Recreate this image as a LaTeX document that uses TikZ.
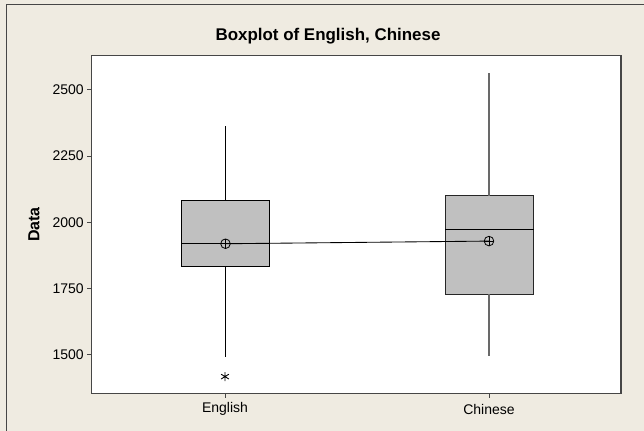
\documentclass[tikz,border=0pt]{standalone}
\usepackage{fontspec}
\setmainfont{Liberation Sans}
\definecolor{bgbeige}{RGB}{239,235,225}
\definecolor{boxgray}{RGB}{192,192,192}
\definecolor{framegray}{RGB}{70,70,70}
\definecolor{whiskgray}{RGB}{105,105,105}
\begin{document}
\begin{tikzpicture}[x=0.75pt,y=-0.75pt,
  declare function={yv(\v)=222.3-(\v-2000)*0.26468;},
  ticklabel/.style={font=\fontsize{10.5pt}{12pt}\selectfont,inner sep=0pt},
  boxshape/.style={draw=black,fill=boxgray,line width=0.75pt},
  whisker/.style={line width=0.6pt},
  meanmark/.style={circle,draw=black,line width=0.6pt,minimum size=7.2pt,inner sep=0pt,
    path picture={\draw[line width=0.6pt] (path picture bounding box.north) -- (path picture bounding box.south)
      (path picture bounding box.west) -- (path picture bounding box.east);}},
  meanline/.style={line width=0.65pt,black}]
\useasboundingbox (0,0) rectangle (644,431);
\fill[bgbeige] (0,0) rectangle (644,431);
% outer frame (left and top edges)
\draw[framegray,line width=1pt] (6.5,431) -- (6.5,4.5) -- (644,4.5);
% plot area
\fill[white] (91.5,55.5) rectangle (621,393.5);
% title
\node[font=\bfseries\fontsize{12.7pt}{14pt}\selectfont,anchor=base,inner sep=0pt] (title) at (328,41) {Boxplot of English, Chinese};
% y axis label
\node[font=\bfseries\fontsize{12pt}{13pt}\selectfont,rotate=90,inner sep=0pt] (ylab) at (34,224.5) {Data};
% y ticks
\foreach \v/\n in {1500/a,1750/b,2000/c,2250/d,2500/e}{
  \draw[framegray,line width=0.75pt] (87,{yv(\v)}) -- (91.5,{yv(\v)});
  \node[ticklabel,anchor=east] (yt\n) at (84,{yv(\v)}) {\v};
}
% x ticks
\draw[framegray,line width=0.75pt] (225,393.5) -- (225,398);
\draw[framegray,line width=0.75pt] (489,393.5) -- (489,398);
\node[ticklabel] (xtE) at (225,409) {English};
\node[ticklabel] (xtC) at (489,409) {Chinese};
% English box
\coordinate (Ewl) at (225,{yv(1492)});
\coordinate (Ewh) at (225,{yv(2364)});
\draw[boxshape] (181.5,{yv(1834)}) rectangle (269,{yv(2082)});
\draw[line width=0.7pt] (181.5,{yv(1919)}) -- (269,{yv(1919)});
\draw[whisker] (225,{yv(2082)}) -- (Ewh);
\draw[whisker] (225,{yv(1834)}) -- (Ewl);
% outlier
\coordinate (Eout) at (225,{yv(1417)});
\draw[line width=0.65pt] ([yshift=3.4pt]Eout) -- ([yshift=-3.4pt]Eout)
  ([xshift=-2.9pt,yshift=-1.8pt]Eout) -- ([xshift=2.9pt,yshift=1.8pt]Eout)
  ([xshift=-2.9pt,yshift=1.8pt]Eout) -- ([xshift=2.9pt,yshift=-1.8pt]Eout);
% Chinese box
\coordinate (Cwl) at (489,{yv(1496)});
\coordinate (Cwh) at (489,{yv(2563)});
\draw[boxshape,draw=black!85] (445.3,{yv(1729)}) rectangle (533.5,{yv(2100)});
\draw[line width=0.7pt] (445.3,{yv(1974)}) -- (533.5,{yv(1974)});
\draw[whisker,whiskgray,line width=0.9pt] (489,{yv(2100)}) -- (Cwh);
\draw[whisker,whiskgray,line width=0.9pt] (489,{yv(1729)}) -- (Cwl);
% means
\node[meanmark] (meanE) at (225.5,{yv(1919)}) {};
\node[meanmark] (meanC) at (489,{yv(1929)}) {};
\draw[meanline] (meanE.center) -- (meanC.center);
% plot border
\draw[framegray,line width=1pt] (91.5,55.5) rectangle (621,393.5);
\end{tikzpicture}
\end{document}
